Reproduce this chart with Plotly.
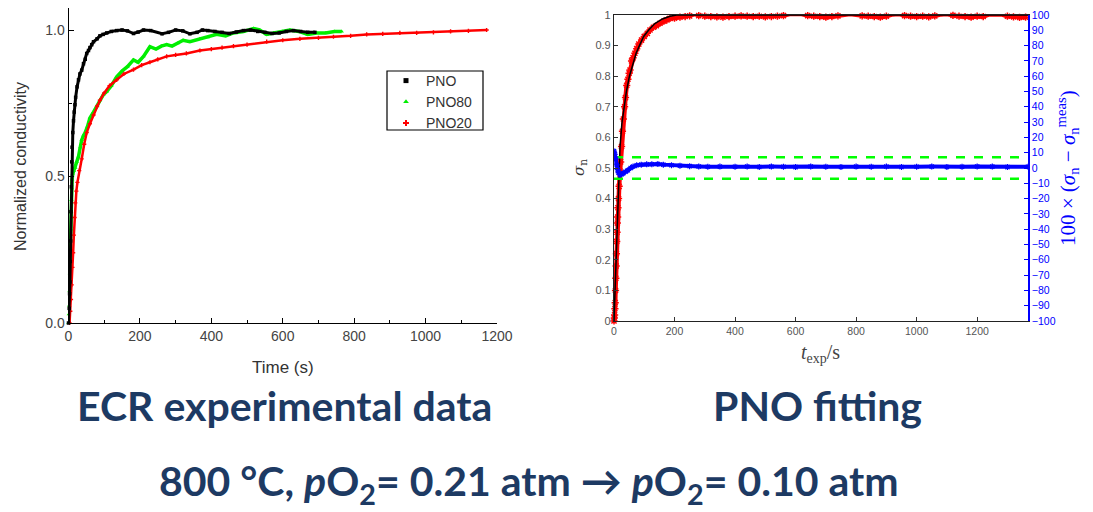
import plotly.graph_objects as go

W, H = 1093, 512
OFF = 8  # page body margin offset of the rendered figure


def px(p):
    return (p - OFF) / W


def py(p):
    return 1 - (p - OFF) / H


# ---------------- Left chart data (ECR experimental) ----------------
pno_t = [0, 2, 3, 4, 5, 6, 7, 8, 9, 10, 12, 14, 16, 18, 20, 24, 28, 32, 37, 42,
         47, 51, 56, 60, 65, 70, 80, 88, 97, 107, 120, 135, 150, 165, 182, 195, 210, 230, 262, 280,
         300, 320, 340, 360, 375, 390, 410, 430, 450, 470, 490, 510, 530, 550, 570, 590, 610, 630, 650, 670,
         690]
pno_y = [0, 0.05, 0.10, 0.14, 0.21, 0.28, 0.38, 0.465, 0.55, 0.60, 0.65, 0.69, 0.72, 0.745, 0.77, 0.806, 0.83, 0.85, 0.863, 0.885,
         0.90, 0.92, 0.93, 0.94, 0.95, 0.96, 0.97, 0.98, 0.985, 0.99, 0.995, 0.998, 1.0, 0.997, 0.988, 0.993, 1.0, 0.998, 0.987, 0.992,
         1.0, 0.997, 0.987, 0.992, 1.0, 0.998, 0.995, 0.992, 0.988, 0.993, 0.998, 1.0, 0.995, 0.992, 0.988, 0.99, 0.995, 0.998, 0.995, 0.992,
         0.992]

pno80_t = [0, 1, 2, 3, 4, 5, 6, 7, 8, 9, 10, 12, 15, 19, 23, 28, 33, 37, 42, 46,
           53, 60, 70, 80, 88, 98, 107, 120, 135, 150, 165, 182, 195, 210, 228, 245, 260, 275, 290, 305,
           321, 340, 368, 390, 415, 440, 462, 490, 518, 535, 555, 575, 600, 620, 645, 670, 695, 720, 745, 765]
pno80_y = [0, 0.03, 0.06, 0.11, 0.17, 0.24, 0.32, 0.38, 0.42, 0.46, 0.49, 0.51, 0.52, 0.53, 0.55, 0.568, 0.60, 0.625, 0.64, 0.648,
           0.67, 0.70, 0.72, 0.74, 0.76, 0.78, 0.79, 0.81, 0.84, 0.86, 0.875, 0.898, 0.89, 0.91, 0.943, 0.935, 0.945, 0.95, 0.945, 0.955,
           0.965, 0.96, 0.97, 0.975, 0.985, 0.98, 0.99, 0.995, 1.005, 1.0, 0.985, 0.99, 0.995, 1.0, 0.995, 0.985, 0.99, 0.99, 0.995, 0.995]

pno20_t = [3, 5, 7, 9, 11, 13, 15, 17, 19, 22, 25, 30, 37, 44, 51, 60, 70, 80, 88, 100,
           115, 135, 155, 182, 205, 228, 250, 275, 300, 330, 368, 400, 430, 462, 500, 555, 600, 648, 700, 742,
           790, 835, 880, 928, 975, 1022, 1070, 1120, 1171]
pno20_y = [0, 0.04, 0.08, 0.13, 0.19, 0.24, 0.30, 0.36, 0.41, 0.45, 0.48, 0.52, 0.56, 0.61, 0.65, 0.68, 0.71, 0.74, 0.76, 0.785,
           0.81, 0.83, 0.85, 0.865, 0.88, 0.89, 0.90, 0.91, 0.915, 0.92, 0.93, 0.935, 0.94, 0.945, 0.95, 0.96, 0.965, 0.97, 0.973, 0.977,
           0.98, 0.985, 0.987, 0.99, 0.99, 0.992, 0.995, 0.997, 1.0]

# ---------------- Right chart data (PNO fitting) ----------------
fit_t = [0, 5, 10, 15, 20, 26, 33, 41, 51, 62, 73, 84, 98, 114, 135, 160, 185, 207, 1368]
fit_y = [0, 0.16, 0.30, 0.45, 0.57, 0.645, 0.70, 0.75, 0.80, 0.84, 0.875, 0.90, 0.93, 0.95, 0.972, 0.987, 0.996, 1.0, 1.0]

exp_t = [0, 1, 2, 3, 4, 5, 6, 7, 8, 9,
         10, 11, 12, 13, 15, 17, 20, 22, 25, 28,
         31, 35, 38, 42, 46, 50, 53, 58, 63, 69,
         75, 82, 91, 100, 110, 119, 130, 140, 152, 165,
         175, 185, 200, 218, 235, 250, 260, 270, 280, 290,
         300, 320, 340, 360, 380, 400, 420, 440, 460, 480,
         500, 520, 540, 560, 580, 600, 620, 640, 660, 680,
         700, 720, 740, 760, 780, 800, 820, 840, 860, 880,
         900, 920, 940, 960, 980, 1000, 1020, 1040, 1060, 1080,
         1100, 1120, 1140, 1160, 1180, 1200, 1220, 1240, 1260, 1280,
         1300, 1320, 1340, 1360]
exp_y = [0, 0.01, 0.02, 0.04, 0.06, 0.10, 0.14, 0.18, 0.22, 0.26,
         0.29, 0.32, 0.34, 0.37, 0.40, 0.44, 0.49, 0.52, 0.57, 0.62,
         0.66, 0.70, 0.73, 0.77, 0.79, 0.81, 0.82, 0.85, 0.86, 0.875,
         0.89, 0.905, 0.918, 0.93, 0.94, 0.951, 0.96, 0.965, 0.973, 0.98,
         0.984, 0.989, 0.99, 0.993, 0.995, 0.997, 1.002, 1.003, 0.998, 1.002,
         0.996, 0.995, 0.994, 0.993, 0.995, 0.996, 0.997, 0.996, 0.995, 0.996,
         0.994, 0.995, 0.996, 0.998, 1.003, 1.002, 1.003, 0.998, 0.996, 0.995,
         0.993, 0.995, 0.997, 1.002, 1.003, 1.001, 0.997, 0.996, 0.995, 0.993,
         0.996, 1.002, 1.003, 0.998, 0.996, 0.995, 0.996, 0.994, 0.997, 1.002,
         1.003, 0.999, 0.996, 0.995, 0.993, 0.996, 0.995, 1.002, 1.003, 1.002,
         0.996, 0.994, 0.992, 0.993]

res_t = [0, 3, 6, 9, 12, 15, 20, 25, 30, 38, 46, 55, 63, 75, 90, 108, 125, 145, 163, 190,
         218, 250, 280, 310, 350, 400, 440, 480, 520, 560, 600, 650, 700, 750, 800, 850, 900, 950, 1000, 1050,
         1100, 1150, 1200, 1250, 1300, 1368]
res_y = [11, 9, 6, 2, -1, -3, -4.5, -4, -3.5, -2.5, -1.5, 0, 1, 1.8, 2.2, 2.4, 2.5, 2.6, 2.2, 1.8,
         1.5, 1.2, 1.0, 0.8, 0.9, 0.8, 1.0, 0.7, 0.9, 0.8, 0.6, 1.0, 0.8, 0.7, 0.9, 0.8, 1.0, 0.7, 0.8, 0.9,
         0.7, 0.8, 1.0, 0.9, 0.6, 0.8]

band_t = [0, 1368]
band_upper = [7, 7]
band_lower = [-7, -7]

left_xticks = [0, 200, 400, 600, 800, 1000, 1200]
left_yticks = [0.0, 0.5, 1.0]
right_xticks = [0, 200, 400, 600, 800, 1000, 1200]
right_yticks = [0, 0.1, 0.2, 0.3, 0.4, 0.5, 0.6, 0.7, 0.8, 0.9, 1]
res_ticks = [-100, -90, -80, -70, -60, -50, -40, -30, -20, -10, 0, 10, 20, 30, 40, 50, 60, 70, 80, 90, 100]

fig = go.Figure()

# Left chart traces
fig.add_trace(go.Scatter(x=pno80_t, y=pno80_y, mode="lines+markers", xaxis="x", yaxis="y",
                         line=dict(color="#00ee00", width=3.5),
                         marker=dict(symbol="triangle-up", size=4, color="#00ee00"),
                         showlegend=False, cliponaxis=False))
fig.add_trace(go.Scatter(x=pno20_t, y=pno20_y, mode="lines+markers", xaxis="x", yaxis="y",
                         line=dict(color="#ff0000", width=2.5),
                         marker=dict(symbol="cross", size=3.5, color="#ff0000"),
                         showlegend=False, cliponaxis=False))
fig.add_trace(go.Scatter(x=pno_t, y=pno_y, mode="lines+markers", xaxis="x", yaxis="y",
                         line=dict(color="#000000", width=3),
                         marker=dict(symbol="square", size=3.5, color="#000000"),
                         showlegend=False, cliponaxis=False))
# legend entries (marker only)
for name, sym, col in [("PNO", "square", "#000000"), ("PNO80", "triangle-up", "#00ee00"), ("PNO20", "cross", "#ff0000")]:
    fig.add_trace(go.Scatter(x=[None], y=[None], mode="markers", name=name, xaxis="x", yaxis="y",
                             marker=dict(symbol=sym, size=5, color=col), showlegend=True))

# Right chart traces
fig.add_trace(go.Scatter(x=band_t, y=band_upper, mode="lines", xaxis="x2", yaxis="y3",
                         line=dict(color="#00ff00", width=2.5, dash="dash"), showlegend=False))
fig.add_trace(go.Scatter(x=band_t, y=band_lower, mode="lines", xaxis="x2", yaxis="y3",
                         line=dict(color="#00ff00", width=2.5, dash="dash"), showlegend=False))
fig.add_trace(go.Scatter(x=res_t, y=res_y, mode="lines+markers", xaxis="x2", yaxis="y3",
                         line=dict(color="#0000ff", width=4),
                         marker=dict(symbol="asterisk-open", size=5, line=dict(color="#0000ff", width=1.2)),
                         showlegend=False))
fig.add_trace(go.Scatter(x=exp_t, y=exp_y, mode="lines+markers", xaxis="x2", yaxis="y2",
                         line=dict(color="#ff0000", width=4.5),
                         marker=dict(symbol="asterisk-open", size=6, line=dict(color="#ff0000", width=1.5)),
                         showlegend=False, cliponaxis=False))
fig.add_trace(go.Scatter(x=fit_t, y=fit_y, mode="lines", xaxis="x2", yaxis="y2",
                         line=dict(color="#000000", width=1.5), showlegend=False, cliponaxis=False))

tickfont_l = dict(family="Arial, Liberation Sans", size=14, color="#444444")
tickfont_r = dict(family="Arial, Liberation Sans", size=11, color="#555555")

# left plot: axis reaches the top of the visible page; 1.0 sits 30 px below page top
left_top_px = OFF
left_bot_px = 323
left_ytop = 1.0 + (30 - left_top_px) / (left_bot_px - 30)

fig.update_layout(
    width=W, height=H,
    margin=dict(l=0, r=0, t=0, b=0, pad=0, autoexpand=False),
    paper_bgcolor="white", plot_bgcolor="white",
    showlegend=True,
    legend=dict(x=px(386), y=py(65), xanchor="left", yanchor="top",
                borderwidth=0, bgcolor="rgba(0,0,0,0)",
                font=dict(family="Arial, Liberation Sans", size=14, color="#333333"),
                tracegroupgap=0, itemwidth=30),
    shapes=[dict(type="rect", xref="paper", yref="paper",
                 x0=px(387), x1=px(483), y0=py(130), y1=py(71),
                 line=dict(color="#000000", width=1.2), fillcolor="rgba(0,0,0,0)")],
    xaxis=dict(domain=[px(68.5), px(497)], range=[0, 1200], anchor="y", automargin=False,
               tickvals=left_xticks, ticks="inside", ticklen=5, tickcolor="#000",
               minor=dict(dtick=100, ticks="inside", ticklen=3, tickcolor="#000"),
               showline=True, linecolor="#000", linewidth=1, showgrid=False, zeroline=False,
               tickfont=tickfont_l),
    yaxis=dict(domain=[py(left_bot_px), py(left_top_px)], range=[0, left_ytop], anchor="x", automargin=False,
               tickvals=left_yticks, tickformat=".1f", ticks="inside", ticklen=5, tickcolor="#000",
               minor=dict(dtick=0.25, ticks="inside", ticklen=3, tickcolor="#000"),
               showline=True, linecolor="#000", linewidth=1, showgrid=False, zeroline=False,
               tickfont=tickfont_l),
    xaxis2=dict(domain=[px(614), px(1028)], range=[0, 1368], anchor="y2", automargin=False,
                tickvals=right_xticks, ticks="inside", ticklen=4, tickcolor="#333",
                showline=True, linecolor="#222", linewidth=1.2, mirror=True,
                showgrid=False, zeroline=False, tickfont=dict(family="Arial, Liberation Sans", size=10.5, color="#555555")),
    yaxis2=dict(domain=[py(321), py(15)], range=[0, 1], anchor="x2", automargin=False,
                tickvals=right_yticks, ticks="inside", ticklen=4, tickcolor="#333",
                showline=True, linecolor="#222", linewidth=1.2,
                showgrid=False, zeroline=False, tickfont=tickfont_r),
    yaxis3=dict(domain=[py(321), py(15)], range=[-100, 100], anchor="x2", automargin=False,
                overlaying="y2", side="right",
                tickvals=res_ticks, ticks="inside", ticklen=4, tickcolor="#0000ff",
                showline=True, linecolor="#0000ff", linewidth=1.5,
                showgrid=False, zeroline=False,
                tickfont=dict(family="Arial, Liberation Sans", size=10.5, color="#0000ff")),
)

navy = "#1d3a63"
ann = [
    dict(text="Normalized conductivity", x=px(20), y=py(167), textangle=-90,
         font=dict(family="Arial, Liberation Sans", size=16, color="#333333")),
    dict(text="Time (s)", x=px(282.7), y=py(367),
         font=dict(family="Arial, Liberation Sans", size=17, color="#333333")),
    dict(text="<i>σ</i><sub>n</sub>", x=px(579), y=py(168), textangle=-90,
         font=dict(family="DejaVu Serif, Liberation Serif", size=15, color="#333333")),
    dict(text="<i>t</i><sub>exp</sub>/s", x=px(820), y=py(353),
         font=dict(family="Liberation Serif, DejaVu Serif", size=20, color="#444444")),
    dict(text="100 × (<i>σ</i><sub>n</sub> − <i>σ</i><sub>n</sub><sup>meas</sup>)", x=px(1067), y=py(168),
         textangle=-90,
         font=dict(family="Liberation Serif, DejaVu Serif", size=21, color="#0000ff")),
    dict(text="<b>ECR experimental data</b>", x=px(284), y=py(405),
         font=dict(family="Lato, Open Sans", size=41, color=navy)),
    dict(text="<b>PNO fitting</b>", x=px(817), y=py(405),
         font=dict(family="Lato, Open Sans", size=41, color=navy)),
    dict(text="<b>800 °C, <i>p</i>O<sub>2</sub>= 0.21 atm → <i>p</i>O<sub>2</sub>= 0.10 atm</b>",
         x=px(529), y=py(483),
         font=dict(family="Lato, Open Sans", size=41, color=navy)),
]
for a in ann:
    a.update(xref="paper", yref="paper", showarrow=False, xanchor="center", yanchor="middle")
fig.update_layout(annotations=ann)

fig.write_html("out.html")
